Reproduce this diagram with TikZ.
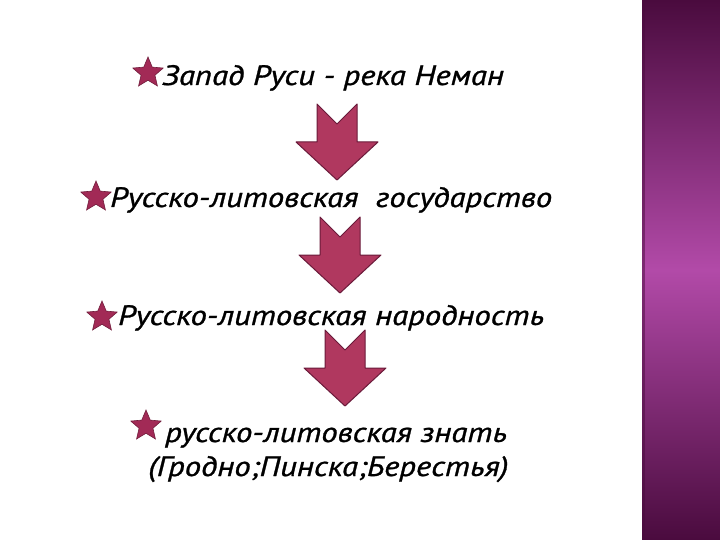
\documentclass[tikz,border=0pt]{standalone}
\usepackage{fontspec}
\setmainfont{PT Sans}
\newfontfamily\slidefont{PT Sans}[FakeStretch=1.17, FakeBold=1]
\usetikzlibrary{shapes.geometric}

\definecolor{arrowred}{HTML}{B0385F}
\definecolor{arrowedge}{HTML}{6A1A3A}
\definecolor{starred}{HTML}{A22A56}
\definecolor{banddark}{HTML}{4A0B3E}
\definecolor{bandlight}{HTML}{B24AA8}

% block arrow pointing down: #1 = centre x, #2 = top y
\newcommand{\blockarrow}[2]{%
  \draw[arrowedge, fill=arrowred, line width=1pt, line join=round]
    (#1-20,#2) -- (#1,#2+20) -- (#1+20,#2) -- (#1+20,#2+38) -- (#1+41,#2+38)
    -- (#1,#2+76) -- (#1-41,#2+38) -- (#1-20,#2+38) -- cycle;}

\begin{document}
\begin{tikzpicture}[x=1pt, y=-1pt,
  item/.style={anchor=base west, font=\slidefont\fontsize{28}{32}\selectfont\itshape, inner sep=0pt},
  staricon/.style={star, star points=5, star point ratio=2.2, minimum size=32pt,
    inner sep=0pt, fill=starred, draw=starred!70!black, line width=0.6pt}]

% Frame of the slide
\useasboundingbox (0,0) rectangle (720,540);
\fill[white] (0,0) rectangle (720,540);

% Purple band on the right
\shade[top color=banddark, bottom color=banddark, middle color=bandlight]
  (642,0) rectangle (720,540);
\fill[banddark, opacity=0.5] (642,0) rectangle (645,540);

% Stars
\node[staricon] (s1) at (148,73) {};
\node[staricon] (s2) at (96,197) {};
\node[staricon] (s3) at (102,317) {};
\node[staricon] (s4) at (146,426) {};

% Texts
\node[item] (zapad) at (162,85) {Запад Руси - река Неман};
\node[item] (gos) at (110,207) {Русско-литовская\ \ государство};
\node[item] (narod) at (118,325) {Русско-литовская народность};
\node[item] (znat) at (165,442) {русско-литовская знать};
\node[item] (goroda) at (148,476) {(Гродно;Пинска;Берестья)};

% Arrows between the lines
\blockarrow{337}{104}
\blockarrow{340}{217}
\blockarrow{345}{330}

\end{tikzpicture}
\end{document}
